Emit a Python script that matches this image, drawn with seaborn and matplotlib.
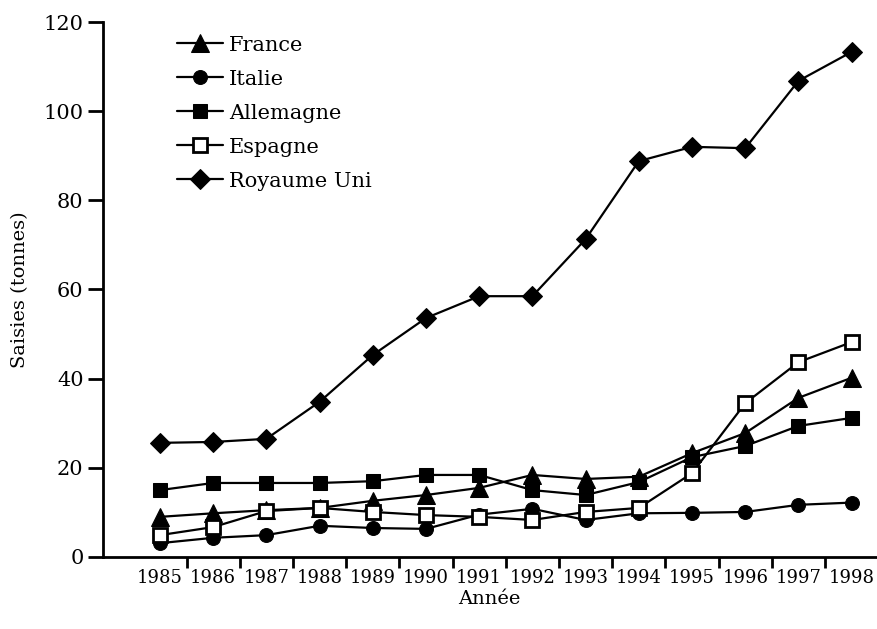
import numpy as np
import pandas as pd
import matplotlib
matplotlib.use("Agg")
import matplotlib.pyplot as plt
from matplotlib.ticker import FixedLocator
import seaborn as sns

# data
years = list(range(1985, 1999))
france = [9.0, 9.8, 10.5, 11.0, 12.6, 13.9, 15.5, 18.4, 17.5, 18.0, 23.3, 27.8, 35.7, 40.2]
italie = [3.1, 4.3, 4.9, 7.0, 6.5, 6.3, 9.5, 10.8, 8.3, 9.8, 9.9, 10.1, 11.7, 12.2]
allemagne = [15.0, 16.6, 16.6, 16.6, 17.0, 18.4, 18.4, 15.0, 13.9, 16.8, 22.4, 24.9, 29.4, 31.2]
espagne = [4.9, 6.7, 10.3, 11.0, 10.1, 9.4, 9.0, 8.3, 10.1, 11.0, 18.8, 34.5, 43.7, 48.2]
royaume_uni = [25.6, 25.8, 26.5, 34.8, 45.3, 53.6, 58.5, 58.5, 71.3, 88.8, 92.0, 91.7, 106.8, 113.3]

countries = ["France", "Italie", "Allemagne", "Espagne", "Royaume Uni"]
series = [france, italie, allemagne, espagne, royaume_uni]

df = pd.DataFrame({"Année": years * len(countries),
                   "Saisies": sum(series, []),
                   "Pays": np.repeat(countries, len(years))})

sns.set_style("ticks", {"axes.edgecolor": "black", "text.color": "black",
                        "axes.labelcolor": "black", "xtick.color": "black",
                        "ytick.color": "black"})
plt.rcParams["font.family"] = ["DejaVu Serif"]

# marker styles per series
styles = {
    "France": dict(marker="^", markersize=13, markerfacecolor="black"),
    "Italie": dict(marker="o", markersize=10, markerfacecolor="black"),
    "Allemagne": dict(marker="s", markersize=10, markerfacecolor="black"),
    "Espagne": dict(marker="s", markersize=10, markerfacecolor="white",
                    markeredgewidth=2),
    "Royaume Uni": dict(marker="D", markersize=10, markerfacecolor="black"),
}

fig = plt.figure(figsize=(8.78, 6.29), dpi=100)
ax = fig.add_axes([0.1173, 0.1145, 0.88, 0.8505])

for name in countries:
    sub = df[df["Pays"] == name]
    sns.lineplot(data=sub, x="Année", y="Saisies", ax=ax, color="black",
                 linewidth=1.6, markeredgecolor="black", label=name,
                 **styles[name])

ax.set_xlim(1983.93, 1998.45)
ax.set_ylim(0, 120)
ax.set_yticks(range(0, 121, 20))
ax.set_xticks(years)
ax.set_xticklabels([str(y) for y in years])
ax.xaxis.set_minor_locator(FixedLocator(np.arange(1985.5, 1998, 1.0)))

ax.tick_params(axis="y", direction="out", length=11, width=2, labelsize=15, pad=3)
ax.tick_params(axis="x", which="major", length=0, labelsize=13, pad=9)
ax.tick_params(axis="x", which="minor", direction="out", length=8, width=2)

for side in ["top", "right"]:
    ax.spines[side].set_visible(False)
for side in ["left", "bottom"]:
    ax.spines[side].set_linewidth(2)

ax.set_xlabel("Année", fontsize=14, labelpad=2)
ax.set_ylabel("Saisies (tonnes)", fontsize=14, labelpad=10)

ax.legend(loc="upper left", bbox_to_anchor=(0.085, 0.99), frameon=False,
          fontsize=15, handlelength=2.2, labelspacing=0.72, borderaxespad=0,
          handletextpad=0.3)

fig.savefig("out.png", dpi=100)
